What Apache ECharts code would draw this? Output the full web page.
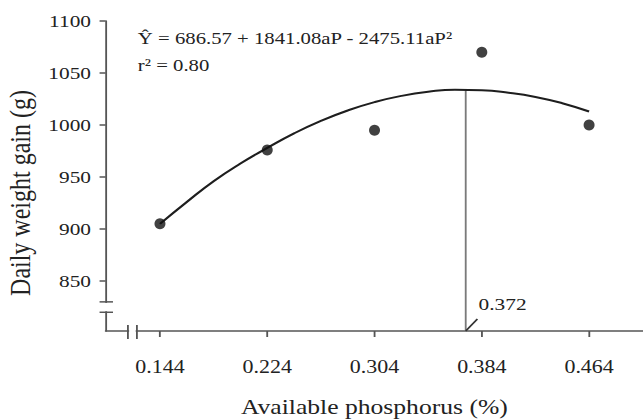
<!DOCTYPE html>
<html><head><meta charset="utf-8">
<script src="https://cdn.jsdelivr.net/npm/echarts@6/dist/echarts.min.js"></script>
<style>
html,body{margin:0;padding:0;background:#fff;overflow:hidden}
#c{width:527px;height:420px;transform:scaleX(1.2201);transform-origin:0 0}
</style></head><body><div id="c"></div>
<script>
const xTicks = [0.144, 0.224, 0.304, 0.384, 0.464];
const yTicks = [850, 900, 950, 1000, 1050, 1100];
const phosphorus = [0.144, 0.224, 0.304, 0.384, 0.464];
const weightGain = [905, 976, 995, 1070, 1000];
const fitX = [0.144, 0.164, 0.184, 0.204, 0.224, 0.244, 0.264, 0.284, 0.304, 0.324, 0.344, 0.364, 0.384, 0.404, 0.424, 0.444, 0.464];
const fitY = [905, 926, 946, 963, 978, 992, 1004, 1014, 1022, 1028, 1032, 1034, 1033.5, 1031, 1027, 1021, 1013];
const optimumP = 0.372;
const optimumGain = 1034;
const xRange = [0.1035, 0.5042];
const yRange = [802, 1100];
const xBreak = [0.1201, 0.1268];
const yBreak = [820, 830];
const equationText = 'Ŷ = 686.57 + 1841.08aP - 2475.11aP²';
const r2Text = 'r² = 0.80';
const xTitle = 'Available phosphorus (%)';
const yTitle = 'Daily weight gain (g)';

const FONT = 'Liberation Serif';
const AX = '#555';
const TXT = '#222';

const chart = echarts.init(document.getElementById('c'), null, {renderer: 'svg'});
const option = {
  animation: false,
  backgroundColor: '#fff',
  grid: {left: 86.6, right: 0, top: 21, bottom: 89, containLabel: false, outerBoundsMode: 'none'},
  xAxis: {
    type: 'value', min: xRange[0], max: xRange[1],
    axisLine: {show: true, onZero: false, lineStyle: {color: AX, width: 1.5}},
    axisTick: {show: true, customValues: xTicks, length: 6, lineStyle: {color: AX, width: 1.5}},
    axisLabel: {customValues: xTicks, formatter: v => v.toFixed(3), margin: 27, fontSize: 18, fontFamily: FONT, color: TXT},
    splitLine: {show: false},
    name: xTitle, nameLocation: 'middle', nameGap: 65,
    nameTextStyle: {fontSize: 21, fontFamily: FONT, color: TXT}
  },
  yAxis: {
    type: 'value', min: yRange[0], max: yRange[1],
    axisLine: {show: true, onZero: false, lineStyle: {color: AX, width: 1.5}},
    axisTick: {show: true, customValues: yTicks, length: 5, lineStyle: {color: AX, width: 1.5}},
    axisLabel: {customValues: yTicks, formatter: v => String(v), margin: 12, fontSize: 17.5, fontFamily: FONT, color: TXT},
    splitLine: {show: false},
    name: yTitle, nameLocation: 'middle', nameGap: 42,
    nameTextStyle: {fontSize: 24, fontFamily: FONT, color: TXT, padding: [0, 34, 0, 0]}
  },
  series: [
    {
      type: 'line', data: fitX.map((x, i) => [x, fitY[i]]), smooth: 0.5,
      showSymbol: false, symbol: 'none', lineStyle: {color: '#1e1e1e', width: 2}, z: 3
    },
    {
      type: 'line', data: [[optimumP, yRange[0]], [optimumP, optimumGain]],
      symbol: 'none', lineStyle: {color: '#7a7a7a', width: 1.5}, z: 2
    },
    {
      type: 'line', symbol: 'none', lineStyle: {color: '#333', width: 1.5}, z: 2,
      data: [[optimumP, yRange[0]], [optimumP + 0.0087, yRange[0] + 11.5]],
      endLabel: {show: true, distance: 1, offset: [0, -15],
        formatter: () => optimumP.toFixed(3), fontSize: 17.5, fontFamily: FONT, color: TXT}
    },
    {
      type: 'scatter', data: phosphorus.map((x, i) => [x, weightGain[i]]),
      symbol: 'circle', symbolSize: [9, 11], itemStyle: {color: '#111'}, z: 5
    }
  ]
};
chart.setOption(option);

const px = v => chart.convertToPixel({gridIndex: 0}, v);
const o = px([xRange[0], yRange[0]]);
const yb1 = px([xRange[0], yBreak[1]]);
const yb2 = px([xRange[0], yBreak[0]]);
const xb1 = px([xBreak[0], yRange[0]]);
const xb2 = px([xBreak[1], yRange[0]]);
const ls = {stroke: AX, lineWidth: 1.5};
chart.setOption({
  graphic: [
    {type: 'rect', z: 100, shape: {x: o[0] - 3, y: yb1[1] + 1, width: 6, height: yb2[1] - yb1[1] - 2}, style: {fill: '#fff'}},
    {type: 'line', z: 101, shape: {x1: o[0] - 5, y1: yb1[1], x2: o[0] + 6, y2: yb1[1]}, style: ls},
    {type: 'line', z: 101, shape: {x1: o[0] - 5, y1: yb2[1], x2: o[0] + 6, y2: yb2[1]}, style: ls},
    {type: 'rect', z: 100, shape: {x: xb1[0] + 1, y: o[1] - 3, width: xb2[0] - xb1[0] - 2, height: 6}, style: {fill: '#fff'}},
    {type: 'line', z: 101, shape: {x1: xb1[0], y1: o[1] - 6, x2: xb1[0], y2: o[1] + 8}, style: ls},
    {type: 'line', z: 101, shape: {x1: xb2[0], y1: o[1] - 6, x2: xb2[0], y2: o[1] + 8}, style: ls},
    {type: 'text', z: 50, x: 113, y: 38, style: {text: equationText, fontSize: 17, fontFamily: FONT, fill: TXT, verticalAlign: 'middle'}},
    {type: 'text', z: 50, x: 113, y: 65, style: {text: r2Text, fontSize: 17, fontFamily: FONT, fill: TXT, verticalAlign: 'middle'}}
  ]
});
</script></body></html>
